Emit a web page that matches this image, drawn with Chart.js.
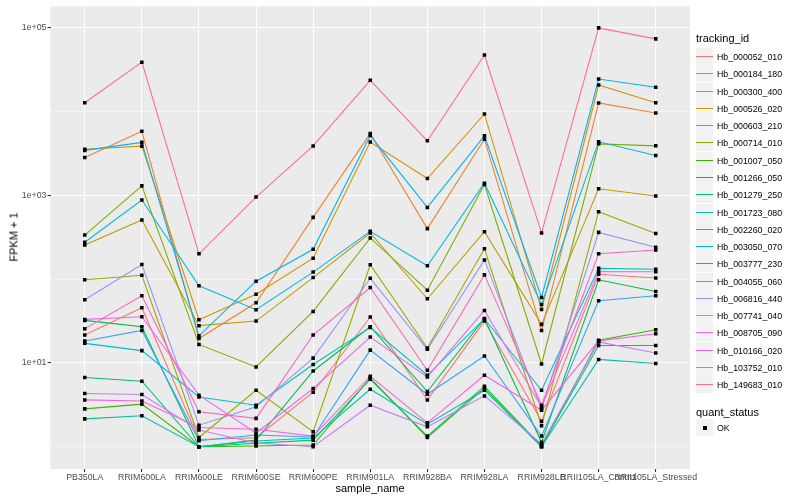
<!DOCTYPE html>
<html>
<head>
<meta charset="utf-8">
<script src="https://cdn.jsdelivr.net/npm/chart.js@4.4.0/dist/chart.umd.min.js"></script>
<style>
body { margin: 0; background: #fff; font-family: "Liberation Sans", Arial, sans-serif; color: #000; }
#wrap { position: relative; width: 800px; height: 500px; }
#chart { position: absolute; left: 0; top: 0; }
.t { position: absolute; white-space: nowrap; line-height: 1; font-weight: normal; }
.key { position: absolute; background: #F2F2F2; }
.key span { position: absolute; left: 0; right: 0; top: 8px; height: 1px; }
</style>
</head>
<body>
<div id="wrap">
  <canvas id="chart" width="800" height="500"></canvas>
  <div id="legend"></div>
  <div class="t" style="left:370px;top:488px;font-size:11px;transform:translate(-50%,-50%)">sample_name</div>
  <div class="t" style="left:14px;top:237px;font-size:11px;transform:translate(-50%,-50%) rotate(-90deg)">FPKM + 1</div>
</div>
<script>
// x categories
const samples = ['PB350LA', 'RRIM600LA', 'RRIM600LE', 'RRIM600SE', 'RRIM600PE', 'RRIM901LA',
    'RRIM928BA', 'RRIM928LA', 'RRIM928LB', 'RRII105LA_Control', 'RRII105LA_Stressed'];

// FPKM + 1, one array per gene, same order as samples
const Hb_000052_010 = [21.5, 45.5, 1.22, 1.28, 4.47, 35.2, 3.62, 31.5, 2.02, 114, 103];
const Hb_000184_180 = [2810, 5780, 19.5, 52.1, 543, 5420, 399, 4650, 24.4, 12560, 9550];
const Hb_000300_400 = [3520, 3840, 32.7, 65.9, 177, 4290, 1580, 9290, 43.4, 20560, 12650];
const Hb_000526_020 = [255, 506, 27.8, 31.5, 104, 354, 58.2, 367, 28.8, 1190, 975];
const Hb_000603_210 = [97.8, 111, 1.29, 4.72, 1.51, 148, 15.0, 229, 1.78, 635, 348];
const Hb_000714_010 = [334, 1290, 16.6, 8.94, 41.1, 309, 73.6, 1340, 9.70, 4090, 3870];
const Hb_001007_050 = [2.83, 3.22, 1, 1.02, 1.05, 6.61, 1.29, 4.99, 1, 18.6, 24.9];
const Hb_001266_050 = [32.1, 27.0, 1, 1.20, 8.01, 27.0, 4.56, 33.9, 1.13, 97.8, 71.0];
const Hb_001279_250 = [6.68, 6.04, 1, 1.10, 1.20, 6.38, 1.34, 5.27, 1.02, 16.1, 16.1];
const Hb_001723_080 = [2.15, 2.34, 1, 1.17, 1.27, 4.85, 1.86, 4.72, 1, 11.0, 9.81];
const Hb_002260_020 = [17.1, 14.0, 3.93, 3.13, 9.55, 26.5, 7.12, 33.6, 4.72, 134, 131];
const Hb_003050_070 = [274, 875, 83.0, 43.0, 121, 370, 144, 1390, 49.8, 4320, 2970];
const Hb_003777_230 = [3420, 4260, 21.0, 94.2, 226, 5130, 714, 5090, 60.3, 24220, 19290];
const Hb_004055_060 = [18.2, 24.4, 1.18, 1.38, 1.31, 14.2, 4.23, 12.1, 1.34, 55.1, 63.1];
const Hb_006816_440 = [56.6, 149, 1.81, 2.99, 11.4, 102, 14.5, 169, 2.86, 360, 239];
const Hb_007741_040 = [4.31, 4.20, 1.58, 1.11, 1, 3.13, 1.73, 4.04, 1.08, 17.8, 13.1];
const Hb_008705_090 = [33.0, 35.5, 4.12, 1.46, 4.95, 20.3, 6.80, 42.2, 2.99, 123, 122];
const Hb_010166_020 = [3.62, 3.52, 1.70, 1.62, 1.34, 6.93, 1.93, 7.12, 2.73, 18.3, 22.3];
const Hb_103752_010 = [25.6, 63.1, 2.61, 2.18, 21.5, 79.2, 8.17, 112, 3.13, 200, 222];
const Hb_149683_010 = [12650, 38500, 200, 950, 3860, 23400, 4440, 46800, 354, 98700, 73000];

const trackingIds = ['Hb_000052_010', 'Hb_000184_180', 'Hb_000300_400', 'Hb_000526_020', 'Hb_000603_210',
    'Hb_000714_010', 'Hb_001007_050', 'Hb_001266_050', 'Hb_001279_250', 'Hb_001723_080',
    'Hb_002260_020', 'Hb_003050_070', 'Hb_003777_230', 'Hb_004055_060', 'Hb_006816_440',
    'Hb_007741_040', 'Hb_008705_090', 'Hb_010166_020', 'Hb_103752_010', 'Hb_149683_010'];
const series = [Hb_000052_010, Hb_000184_180, Hb_000300_400, Hb_000526_020, Hb_000603_210,
    Hb_000714_010, Hb_001007_050, Hb_001266_050, Hb_001279_250, Hb_001723_080,
    Hb_002260_020, Hb_003050_070, Hb_003777_230, Hb_004055_060, Hb_006816_440,
    Hb_007741_040, Hb_008705_090, Hb_010166_020, Hb_103752_010, Hb_149683_010];
const quantStatus = ['OK'];

const yTickValues = [1, 10, 100, 1000, 10000, 100000];
const yTickLabels = ['', '1e+01', '', '1e+03', '', '1e+05'];

// ggplot hue palette, 20 levels
const colors = ['#F8766D', '#EA8331', '#D89000', '#C09B00', '#A3A500', '#7CAE00', '#39B600', '#00BB4E',
    '#00BF7D', '#00C1A3', '#00BFC4', '#00BAE0', '#00B0F6', '#35A2FF', '#9590FF', '#C77CFF',
    '#E76BF3', '#FA62DB', '#FF62BC', '#FF6C91'];

const tickFont = { family: '"Liberation Sans", Arial, sans-serif', size: 8.8 };

const lineSets = series.map((vals, i) => ({
    label: trackingIds[i],
    data: vals.map((v, j) => ({ x: j, y: v })),
    borderColor: colors[i],
    borderWidth: 1.07,
    pointRadius: 0,
    tension: 0,
    order: 100 - i
}));
const pointSets = series.map((vals, i) => ({
    label: trackingIds[i] + ' ' + quantStatus[0],
    data: vals.map((v, j) => ({ x: j, y: v })),
    showLine: false,
    pointStyle: 'rect',
    pointRadius: 2.5,
    pointBackgroundColor: '#000000',
    pointBorderWidth: 0,
    order: 0
}));

const panelBg = {
    id: 'panelBg',
    beforeDraw(chart) {
        const { ctx, chartArea: a } = chart;
        ctx.save();
        ctx.fillStyle = '#EBEBEB';
        ctx.fillRect(a.left, a.top, a.right - a.left, a.bottom - a.top);
        ctx.restore();
    }
};

const isMajor = v => yTickLabels[yTickValues.indexOf(v)] !== '';

new Chart(document.getElementById('chart').getContext('2d'), {
    type: 'line',
    data: { datasets: lineSets.concat(pointSets) },
    options: {
        responsive: false,
        animation: false,
        layout: { padding: { top: 5, right: 110, left: 0, bottom: 0 } },
        plugins: { legend: { display: false }, tooltip: { enabled: false } },
        scales: {
            x: {
                type: 'linear',
                min: -0.6,
                max: 10.6,
                afterBuildTicks: s => { s.ticks = samples.map((_, i) => ({ value: i })); },
                afterFit: s => { s.height = 31; },
                ticks: {
                    callback: v => samples[v],
                    autoSkip: false, maxRotation: 0, minRotation: 0,
                    font: tickFont, color: '#4D4D4D', padding: 0.5
                },
                grid: { color: '#FFFFFF', lineWidth: 1.07, tickLength: 3, tickColor: '#333333', tickWidth: 1.07 },
                border: { display: false }
            },
            y: {
                type: 'logarithmic',
                min: 0.543,
                max: 178600,
                afterBuildTicks: s => { s.ticks = yTickValues.map(v => ({ value: v })); },
                afterFit: s => { s.width = 50.5; },
                ticks: {
                    callback: v => yTickLabels[yTickValues.indexOf(v)],
                    autoSkip: false,
                    font: tickFont, color: '#4D4D4D', padding: 1
                },
                grid: {
                    color: '#FFFFFF',
                    lineWidth: c => isMajor(c.tick.value) ? 1.07 : 0.53,
                    tickLength: 3,
                    tickColor: c => isMajor(c.tick.value) ? '#333333' : 'rgba(0,0,0,0)',
                    tickWidth: 1.07
                },
                border: { display: false }
            }
        }
    },
    plugins: [panelBg]
});

// legend, ggplot style
const legend = document.getElementById('legend');
const rowH = 17.28;
let html = '<div class="t" style="left:696px;top:38px;font-size:11px;transform:translateY(-50%)">tracking_id</div>';
trackingIds.forEach((id, i) => {
    const top = Math.round(48 + rowH * i);
    html += '<div class="key" style="left:696px;top:' + top + 'px;width:17px;height:17px">' +
        '<span style="background:' + colors[i] + '"></span></div>';
    html += '<div class="t" style="left:717px;top:' + (top + 8.5) + 'px;font-size:8.8px;transform:translateY(-50%)">' + id + '</div>';
});
html += '<div class="t" style="left:696px;top:412px;font-size:11px;transform:translateY(-50%)">quant_status</div>';
html += '<div class="key" style="left:696px;top:419px;width:17px;height:17px">' +
    '<div style="position:absolute;left:7px;top:7px;width:4px;height:4px;background:#000"></div></div>';
html += '<div class="t" style="left:717px;top:427.5px;font-size:8.8px;transform:translateY(-50%)">' + quantStatus[0] + '</div>';
legend.innerHTML = html;
</script>
</body>
</html>
